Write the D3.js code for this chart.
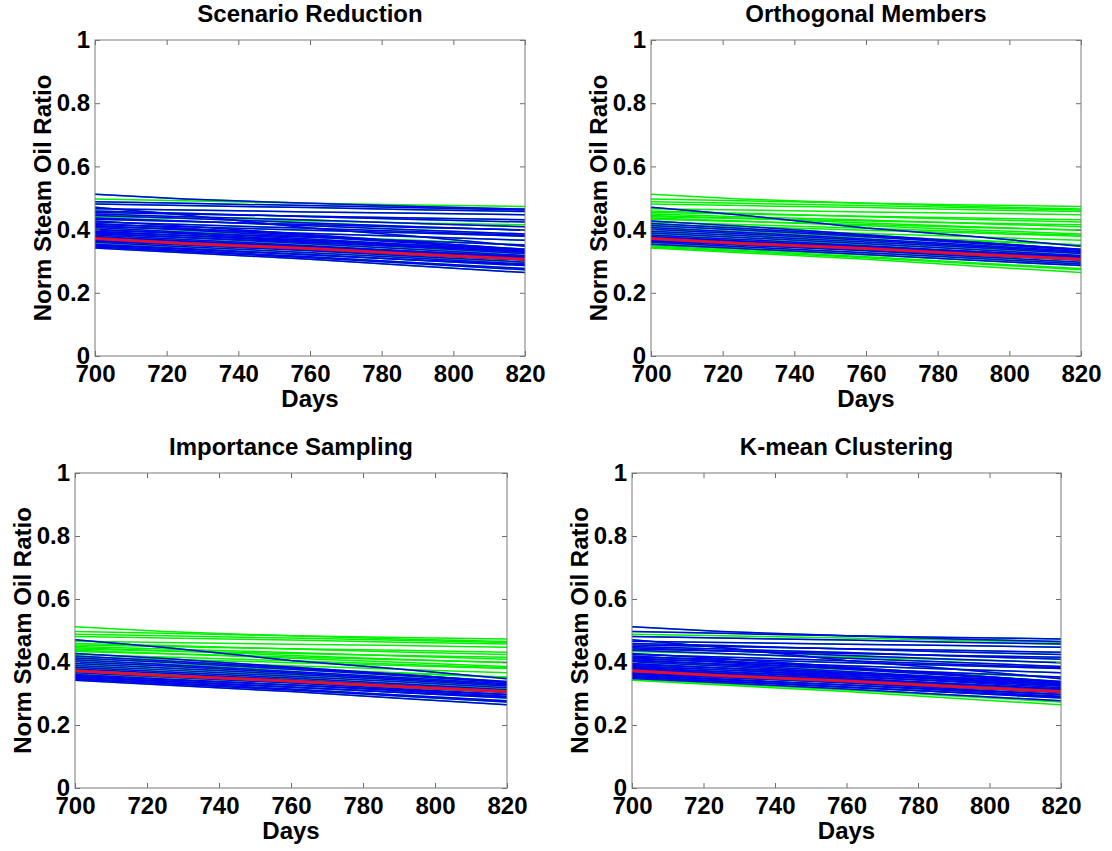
<!DOCTYPE html>
<meta charset="utf-8">
<head>
	<style>
		body {
			margin: 0;
			background: white;
			font-family: "Liberation Sans", Arial, Helvetica, sans-serif;
		}
		svg text {
			font-weight: bold;
		}
	</style>
	<script src="https://cdn.jsdelivr.net/npm/d3@7"></script>
</head>

<body>
	<svg id="chart"></svg>
</body>

<script>

// sampled days for every curve
let days = [700, 725, 760, 790, 820]

// ensemble members, norm steam oil ratio at each sampled day
let members = [
	[0.512, 0.497, 0.483, 0.473, 0.465],
	[0.497, 0.491, 0.483, 0.478, 0.473],
	[0.488, 0.483, 0.476, 0.469, 0.462],
	[0.481, 0.476, 0.470, 0.463, 0.457],
	[0.471, 0.446, 0.405, 0.378, 0.347],
	[0.466, 0.462, 0.456, 0.452, 0.447],
	[0.459, 0.452, 0.441, 0.432, 0.424],
	[0.454, 0.449, 0.442, 0.437, 0.431],
	[0.449, 0.441, 0.430, 0.419, 0.409],
	[0.445, 0.436, 0.421, 0.409, 0.398],
	[0.441, 0.435, 0.427, 0.421, 0.415],
	[0.437, 0.427, 0.412, 0.399, 0.386],
	[0.433, 0.426, 0.416, 0.407, 0.399],
	[0.427, 0.411, 0.384, 0.361, 0.336],
	[0.424, 0.416, 0.404, 0.393, 0.382],
	[0.419, 0.404, 0.381, 0.360, 0.338],
	[0.416, 0.409, 0.398, 0.389, 0.379],
	[0.413, 0.399, 0.377, 0.357, 0.335],
	[0.410, 0.401, 0.388, 0.377, 0.366],
	[0.407, 0.392, 0.370, 0.351, 0.331],
	[0.404, 0.394, 0.379, 0.366, 0.352],
	[0.401, 0.387, 0.366, 0.347, 0.328],
	[0.398, 0.389, 0.376, 0.364, 0.351],
	[0.395, 0.381, 0.361, 0.343, 0.324],
	[0.392, 0.381, 0.365, 0.351, 0.337],
	[0.389, 0.375, 0.355, 0.337, 0.318],
	[0.386, 0.375, 0.359, 0.345, 0.331],
	[0.383, 0.369, 0.349, 0.331, 0.312],
	[0.380, 0.369, 0.353, 0.339, 0.324],
	[0.378, 0.364, 0.344, 0.326, 0.308],
	[0.375, 0.363, 0.346, 0.331, 0.315],
	[0.372, 0.358, 0.339, 0.321, 0.303],
	[0.369, 0.357, 0.341, 0.326, 0.311],
	[0.366, 0.352, 0.333, 0.315, 0.297],
	[0.363, 0.351, 0.335, 0.320, 0.305],
	[0.360, 0.346, 0.327, 0.309, 0.291],
	[0.357, 0.344, 0.327, 0.312, 0.297],
	[0.354, 0.340, 0.321, 0.303, 0.286],
	[0.351, 0.338, 0.320, 0.304, 0.289],
	[0.348, 0.334, 0.314, 0.295, 0.277],
	[0.345, 0.331, 0.311, 0.292, 0.273],
	[0.342, 0.327, 0.306, 0.285, 0.264]
]

// reference curve (red)
let redLine = [0.372, 0.356, 0.340, 0.322, 0.306]

let panelTitles = ["Scenario Reduction", "Orthogonal Members", "Importance Sampling", "K-mean Clustering"]

// members picked by each method (drawn blue)
let pickedSR = [0, 2, 3, 4, 5, 6, 7, 8, 9, 11, 12, 13, 14, 15, 16, 17, 18, 19, 21, 22, 23, 24, 25, 26, 27, 29, 30, 31, 32, 33, 34, 35, 37, 38, 39, 40, 41]
let pickedOM = [4, 13, 15, 17, 19, 21, 23, 25, 27, 29, 30, 31, 33, 34, 35, 37]
let pickedIS = [4, 13, 15, 17, 19, 21, 23, 25, 27, 29, 31, 33, 35, 36, 37, 38, 39, 40, 41]
let pickedKM = [0, 1, 3, 4, 5, 6, 7, 8, 9, 10, 11, 13, 14, 15, 16, 17, 18, 19, 20, 21, 23, 24, 25, 26, 27, 28, 29, 30, 31, 33, 34, 35, 36, 37, 38, 39]

let xTicks = [700, 720, 740, 760, 780, 800, 820]
let yTicks = [0, 0.2, 0.4, 0.6, 0.8, 1]
let yTickLabels = ["0", "0.2", "0.4", "0.6", "0.8", "1"]

function getConfig() {
	let width = 1112
	let height = 851
	let panels = [
		{ left: 95, right: 525, top: 40, bottom: 356, title: panelTitles[0], picked: pickedSR },
		{ left: 651, right: 1081, top: 40, bottom: 356, title: panelTitles[1], picked: pickedOM },
		{ left: 75, right: 507, top: 473, bottom: 788, title: panelTitles[2], picked: pickedIS },
		{ left: 632, right: 1061, top: 473, bottom: 788, title: panelTitles[3], picked: pickedKM }
	]
	let container = d3.select("#chart")
		.attr("width", width)
		.attr("height", height)
	return { width, height, panels, container }
}

function drawPanel(p, config) {
	let { container } = config
	let fontSize = "24px"

	let xScale = d3.scaleLinear().domain([700, 820]).range([p.left, p.right])
	let yScale = d3.scaleLinear().domain([0, 1]).range([p.bottom, p.top])

	let line = d3.line()
		.x((d, i) => xScale(days[i]))
		.y(d => yScale(d))

	let g = container.append("g")

	// all members in green first
	g.selectAll(".member")
		.data(members)
		.enter()
		.append("path")
		.attr("d", line)
		.attr("fill", "none")
		.attr("stroke", "#00f000")
		.attr("stroke-width", 1.5)

	// picked members on top in blue
	g.selectAll(".picked")
		.data(p.picked.map(i => members[i]))
		.enter()
		.append("path")
		.attr("d", line)
		.attr("fill", "none")
		.attr("stroke", "#0000f0")
		.attr("stroke-width", 1.5)

	g.append("path")
		.datum(redLine)
		.attr("d", line)
		.attr("fill", "none")
		.attr("stroke", "#e0102e")
		.attr("stroke-width", 3)

	// axes, ticks pointing in like matlab
	let axB = g.append("g")
		.attr("transform", `translate(0,${p.bottom})`)
		.call(d3.axisBottom(xScale).tickValues(xTicks).tickSize(-5).tickPadding(9))
	let axL = g.append("g")
		.attr("transform", `translate(${p.left},0)`)
		.call(d3.axisLeft(yScale).tickValues(yTicks).tickSize(-5).tickPadding(5)
			.tickFormat((d, i) => yTickLabels[i]))
	let axT = g.append("g")
		.attr("transform", `translate(0,${p.top})`)
		.call(d3.axisTop(xScale).tickValues(xTicks).tickSize(-5).tickFormat(""))
	let axR = g.append("g")
		.attr("transform", `translate(${p.right},0)`)
		.call(d3.axisRight(yScale).tickValues(yTicks).tickSize(-5).tickFormat(""))

	;[axB, axL, axT, axR].forEach(ax => {
		ax.attr("font-family", null).attr("font-size", null)
		ax.select(".domain").remove()
		ax.selectAll(".tick line").attr("stroke", "#6e6e6e")
		ax.selectAll("text")
			.attr("fill", "black")
			.style("font-size", fontSize)
	})

	g.append("rect")
		.attr("x", p.left)
		.attr("y", p.top)
		.attr("width", p.right - p.left)
		.attr("height", p.bottom - p.top)
		.attr("fill", "none")
		.attr("stroke", "#7a7a7a")
		.attr("stroke-width", 1)

	g.append("text")
		.attr("x", (p.left + p.right) / 2)
		.attr("y", p.top - 18)
		.attr("text-anchor", "middle")
		.style("font-size", fontSize)
		.text(p.title)

	g.append("text")
		.attr("x", (p.left + p.right) / 2)
		.attr("y", p.bottom + 51)
		.attr("text-anchor", "middle")
		.style("font-size", fontSize)
		.text("Days")

	g.append("text")
		.attr("transform", `translate(${p.left - 44},${(p.top + p.bottom) / 2}) rotate(-90)`)
		.attr("text-anchor", "middle")
		.style("font-size", fontSize)
		.text("Norm Steam Oil Ratio")
}

let config = getConfig()
config.panels.forEach(p => drawPanel(p, config))

</script>
